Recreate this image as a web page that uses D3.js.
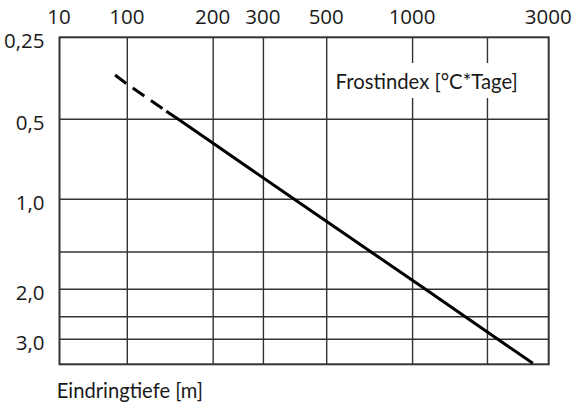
<!DOCTYPE html>
<html><head><meta charset="utf-8">
<script src="https://cdn.jsdelivr.net/npm/d3@7"></script>
<style>
html,body{margin:0;padding:0;background:#fff;}
text{fill:#1a1a1a;}
</style></head>
<body>
<svg id="chart" width="572" height="404"></svg>
<script>
// ---- data ----
const xTickValues = [10, 100, 200, 300, 500, 1000, 3000];
const xGridValues = [100, 200, 300, 500, 1000, 1830];
const yTickValues = [0.25, 0.5, 1, 2, 3];
const yTickLabels = ["0,25", "0,5", "1,0", "2,0", "3,0"];
const yGridValues = [0.5, 1, 1.5, 2, 2.5, 3];
const depthMax = 3.67;
const frostIndex = [66, 100, 137, 151, 385, 1110, 1990, 2640];
const depth = [0.344, 0.372, 0.467, 0.5, 1.0, 2.0, 3.0, 3.64];
const dashedUntil = 2; // points 0..2 dashed, 2..end solid
const xTitle = "Frostindex [°C*Tage]";
const yTitle = "Eindringtiefe [m]";

// ---- layout ----
const svg = d3.select("#chart");
const L = 59.5, R = 548.7, T = 37.3, B = 364.3;
const tickFont = "'Open Sans',sans-serif";
const titleFont = "Lato,'Open Sans',sans-serif";

const x = d3.scaleLog().domain([10, 100, 3000]).range([L, 127.3, R]);
const y = d3.scaleLog().domain([0.25, 0.5, 1, 2, 3, depthMax])
  .range([T, 119.3, 199.3, 289.3, 339.3, B]);

const gridColor = "#333";

// horizontal grid
svg.append("g").selectAll("line").data(yGridValues).join("line")
  .attr("x1", L).attr("x2", R)
  .attr("y1", d => y(d)).attr("y2", d => y(d))
  .attr("stroke", gridColor).attr("stroke-width", 1.4);

// vertical grid
svg.append("g").selectAll("line").data(xGridValues).join("line")
  .attr("x1", d => x(d)).attr("x2", d => x(d))
  .attr("y1", T).attr("y2", B)
  .attr("stroke", gridColor).attr("stroke-width", 1.4);

// label box (white) inside the plot
const title = svg.append("g");
title.append("rect")
  .attr("x", 331).attr("y", 63).attr("width", 191).attr("height", 35)
  .attr("fill", "#fff");
title.append("text")
  .attr("x", 426.7).attr("y", 89.3)
  .attr("text-anchor", "middle")
  .attr("font-family", titleFont)
  .attr("font-size", 20.3)
  .text(xTitle);

// frame
svg.append("rect")
  .attr("x", L).attr("y", T).attr("width", R - L).attr("height", B - T)
  .attr("fill", "none").attr("stroke", gridColor).attr("stroke-width", 2);

// top axis labels
const xAxis = d3.axisTop(x).tickValues(xTickValues).tickSize(0).tickPadding(13)
  .tickFormat(d3.format("d"));
const gx = svg.append("g").attr("transform", `translate(0,${T})`).call(xAxis);
gx.select(".domain").remove();
gx.selectAll("text").attr("font-size", 20.5).attr("fill", "#1a1a1a")
  .attr("font-family", tickFont).attr("dx", "-1");

// left axis labels
const yAxis = d3.axisLeft(y).tickValues(yTickValues).tickSize(0)
  .tickFormat((d, i) => yTickLabels[i]);
const gy = svg.append("g").attr("transform", `translate(${L},0)`).call(yAxis);
gy.select(".domain").remove();
gy.selectAll("text").attr("font-size", 20.5).attr("fill", "#1a1a1a")
  .attr("font-family", tickFont)
  .attr("text-anchor", "end").attr("x", 44.5 - L).attr("dy", "0.48em");

// bottom title
svg.append("text").attr("x", 56.7).attr("y", 398)
  .attr("font-family", titleFont)
  .attr("font-size", 20.2).text(yTitle);

// curve
const pts = frostIndex.map((f, i) => [f, depth[i]]);
const line = d3.line().x(d => x(d[0])).y(d => y(d[1]));
svg.append("path").datum(pts.slice(0, dashedUntil + 1))
  .attr("d", line).attr("fill", "none").attr("stroke", "#000")
  .attr("stroke-width", 3).attr("stroke-dasharray", "14,8");
svg.append("path").datum(pts.slice(dashedUntil))
  .attr("d", line).attr("fill", "none").attr("stroke", "#000")
  .attr("stroke-width", 3);
</script>
</body></html>
